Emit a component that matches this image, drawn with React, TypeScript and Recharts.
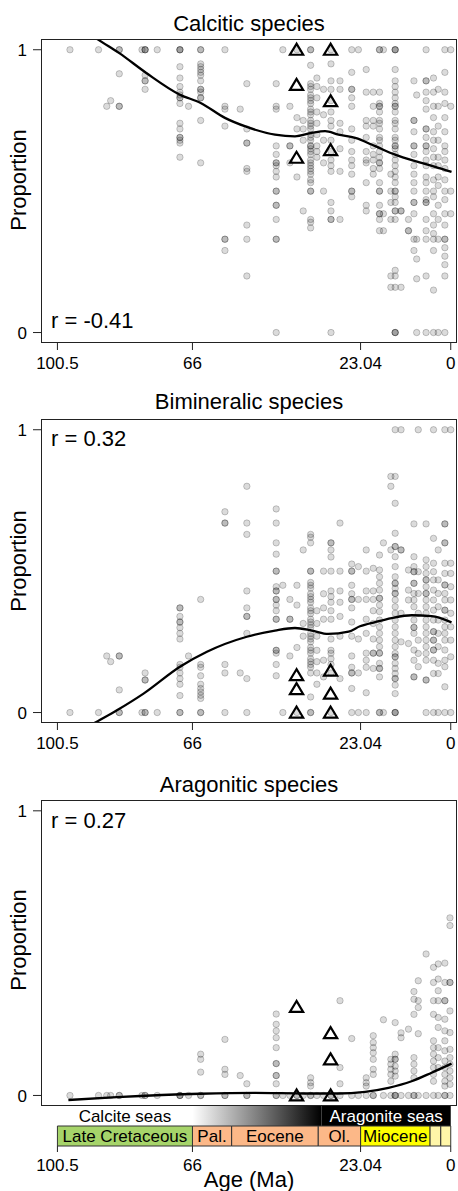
import React from 'react';
import { ComposedChart, BarChart, Bar, Scatter, Line, XAxis, YAxis } from 'recharts';

const FONT = '"Liberation Sans", Arial, Helvetica, sans-serif';

const AGE_DOMAIN: [number, number] = [-1.6, 104.7];
const P_DOMAIN: [number, number] = [-0.037, 1.038];
const AGE_TICKS = [100.5, 66, 23.04, 0];
const P_TICKS = [0, 1];

type Col = [number, number[]];

// columns of samples: [age (Ma), proportions]
const calcitic: Col[] = [
  [97.3, [1]],
  [90.0, [1]],
  [87.9, [0.8]],
  [86.9, [0.82]],
  [84.7, [1, 1, 0.915, 0.8, 0.8]],
  [78.9, [1]],
  [78.1, [1, 1, 1, 0.91, 0.89, 0.89, 0.86]],
  [75.0, [1]],
  [69.2, [1, 1, 1, 0.94, 0.9, 0.87, 0.85, 0.84, 0.83, 0.83, 0.81, 0.74, 0.72, 0.69, 0.69, 0.68, 0.67, 0.62]],
  [67.0, [0.8]],
  [63.9, [1, 1, 0.95, 0.94, 0.93, 0.92, 0.91, 0.89, 0.86, 0.86, 0.85, 0.83, 0.83, 0.75, 0.6]],
  [57.7, [1, 0.8, 0.79, 0.73, 0.33, 0.33, 0.29]],
  [53.8, [0.79]],
  [52.1, [0.88, 0.72, 0.67, 0.67, 0.58, 0.57, 0.38, 0.33, 0.2]],
  [44.6, [0.88, 0.8, 0.79, 0.66, 0.63, 0.6, 0.6, 0.59, 0.57, 0.55, 0.5, 0.5, 0.45, 0.45, 0.4, 0.33, 0.33, 0]],
  [42.9, [1]],
  [41.1, [0.8, 0.66, 0.66, 0.6]],
  [39.3, [1, 0.76, 0.72, 0.55]],
  [37.7, [0.75, 0.72, 0.68, 0.43]],
  [35.8, [1, 1, 0.945, 0.88, 0.87, 0.86, 0.84, 0.83, 0.82, 0.81, 0.79, 0.78, 0.77, 0.75, 0.74, 0.73, 0.72, 0.7, 0.69, 0.68, 0.66, 0.66, 0.65, 0.64, 0.63, 0.61, 0.6, 0.59, 0.58, 0.57, 0.56, 0.54, 0.53, 0.5, 0.5, 0.4, 0.39, 0.37]],
  [34.2, [0.9, 0.87, 0.83, 0.78, 0.74, 0.7, 0.66, 0.64, 0.62]],
  [32.5, [0.86, 0.77, 0.68, 0.6, 0.5]],
  [30.6, [1, 0.95, 0.89, 0.86, 0.82, 0.78, 0.75, 0.73, 0.68, 0.64, 0.61, 0.59, 0.57, 0.46, 0.43, 0.4, 0.4, 0]],
  [28.3, [0.89, 0.86, 0.74, 0.71, 0.65, 0.57, 0.4]],
  [25.3, [1, 0.92, 0.86, 0.86, 0.83, 0.8, 0.72, 0.68, 0.64, 0.61, 0.59, 0.56, 0.5, 0.5, 0.48]],
  [23.6, [1]],
  [21.6, [0.93, 0.85, 0.75, 0.73, 0.69, 0.64, 0.61, 0.6, 0.53, 0.45, 0.43]],
  [19.8, [0.85, 0.8, 0.75, 0.73, 0.66, 0.63, 0.61, 0.58, 0.56]],
  [18.2, [1, 1, 0.85, 0.81, 0.8, 0.8, 0.78, 0.75, 0.74, 0.72, 0.69, 0.68, 0.66, 0.64, 0.62, 0.6, 0.6, 0.58, 0.53, 0.5, 0.5, 0.45, 0.42, 0.42, 0.4, 0.36]],
  [17.2, [1, 0.42, 0.36]],
  [15.3, [0.56, 0.5, 0.46, 0.4, 0.2, 0.16]],
  [14.2, [1, 1, 1, 0.93, 0.89, 0.87, 0.85, 0.83, 0.81, 0.8, 0.8, 0.78, 0.75, 0.74, 0.72, 0.69, 0.68, 0.66, 0.66, 0.65, 0.63, 0.61, 0.59, 0.57, 0.55, 0.53, 0.5, 0.5, 0.48, 0.46, 0.43, 0.43, 0.4, 0.22, 0.2, 0.16, 0, 0, 0]],
  [12.7, [0.43, 0.43, 0.16]],
  [10.8, [0.4, 0.36, 0.36]],
  [9.4, [0.89, 0.75, 0.75, 0.71, 0.66, 0.66, 0.63, 0.59, 0.56, 0.53, 0.5, 0.46, 0.46, 0.42, 0.33, 0.29]],
  [8.7, [0.84, 0.33, 0.26, 0.19, 0]],
  [6.3, [1, 0.89, 0.89, 0.85, 0.82, 0.79, 0.72, 0.72, 0.69, 0.66, 0.66, 0.64, 0.61, 0.59, 0.55, 0.53, 0.5, 0.47, 0.46, 0.46, 0.4, 0.36, 0.33, 0.2, 0]],
  [4.4, [0.9, 0.85, 0.8, 0.76, 0.71, 0.68, 0.65, 0.62, 0.59, 0.54, 0.5, 0.48, 0.42, 0.38, 0.35, 0.33, 0.29, 0.15, 0]],
  [3.2, [0.86, 0.8, 0.73, 0.68, 0.62, 0.59, 0.55, 0.52, 0.45, 0.4, 0.33, 0]],
  [1.5, [1, 0.92, 0.85, 0.81, 0.76, 0.71, 0.66, 0.64, 0.61, 0.58, 0.54, 0.5, 0.47, 0.42, 0.38, 0.33, 0.33, 0.3, 0.27, 0.24, 0.2, 0]],
  [0, [1, 0.8, 0.5, 0.42]],
];

const bimineralic: Col[] = [
  [97.3, [0]],
  [90.0, [0]],
  [87.9, [0.2]],
  [86.9, [0.18]],
  [84.7, [0, 0, 0.2, 0.2, 0.08]],
  [78.9, [0]],
  [78.1, [0, 0, 0.14, 0.115, 0.115]],
  [75.0, [0]],
  [69.2, [0, 0, 0.37, 0.37, 0.34, 0.32, 0.32, 0.3, 0.28, 0.26, 0.17, 0.16, 0.14, 0.12, 0.1, 0.06]],
  [67.0, [0.2]],
  [63.9, [0, 0, 0.4, 0.17, 0.16, 0.13, 0.1, 0.085, 0.073, 0.061, 0.05]],
  [57.7, [0, 0.71, 0.67, 0.67, 0.17, 0.14]],
  [53.8, [0.14]],
  [52.1, [0, 0.8, 0.67, 0.63, 0.43, 0.37, 0.34, 0.34, 0.28, 0.12]],
  [44.6, [0.72, 0.67, 0.6, 0.56, 0.5, 0.5, 0.445, 0.43, 0.43, 0.4, 0.4, 0.38, 0.36, 0.33, 0.33, 0.22, 0.22, 0.21, 0.17, 0.13]],
  [42.9, [0.45, 0]],
  [41.1, [0.4, 0.33, 0.33, 0.2]],
  [39.3, [0.45, 0.38, 0.23, 0]],
  [37.7, [0.575, 0.315, 0.27]],
  [35.8, [0.63, 0.62, 0.6, 0.5, 0.5, 0.46, 0.45, 0.44, 0.42, 0.41, 0.4, 0.39, 0.37, 0.36, 0.35, 0.33, 0.32, 0.31, 0.3, 0.28, 0.27, 0.26, 0.25, 0.23, 0.22, 0.21, 0.19, 0.18, 0.17, 0.16, 0.14, 0.055, 0, 0]],
  [34.2, [0.36, 0.315, 0.27, 0.22, 0.18, 0.14, 0.1]],
  [32.5, [0.5, 0.42, 0.37, 0.33, 0.185, 0.126]],
  [30.6, [0.6, 0.6, 0.575, 0.55, 0.5, 0.43, 0.41, 0.39, 0.36, 0.33, 0.26, 0.22, 0.21, 0.19, 0.17, 0.14, 0]],
  [28.3, [0.67, 0.5, 0.43, 0.39, 0.34, 0.27, 0.12]],
  [25.3, [0.525, 0.5, 0.5, 0.45, 0.42, 0.4, 0.4, 0.37, 0.32, 0.27, 0.2, 0.16, 0.14, 0.14, 0.085, 0]],
  [23.6, [0.516, 0.4, 0.26, 0.14, 0]],
  [21.6, [0.575, 0.5, 0.43, 0.4, 0.33, 0.28, 0.21, 0.185, 0.16, 0.07, 0]],
  [19.8, [0.51, 0.43, 0.4, 0.36, 0.315, 0.26, 0.21, 0.21, 0.156]],
  [18.2, [0.557, 0.504, 0.48, 0.457, 0.433, 0.404, 0.404, 0.38, 0.357, 0.327, 0.303, 0.28, 0.256, 0.233, 0.21, 0.21, 0.174, 0.156, 0.156, 0.126, 0, 0]],
  [17.2, [0.6, 0]],
  [15.3, [0.835, 0.8, 0.575]],
  [14.2, [1, 0.835, 0.74, 0.634, 0.587, 0.587, 0.551, 0.516, 0.48, 0.457, 0.457, 0.439, 0.421, 0.421, 0.398, 0.374, 0.351, 0.327, 0.303, 0.28, 0.256, 0.233, 0.209, 0.197, 0.197, 0.174, 0.156, 0.138, 0.12, 0.12, 0.097, 0.067, 0, 0, 0]],
  [12.7, [1, 0.575, 0.575, 0.351, 0.25]],
  [10.8, [0.504, 0.433, 0.398, 0.244]],
  [9.4, [0.667, 0.551, 0.516, 0.498, 0.498, 0.457, 0.457, 0.421, 0.398, 0.374, 0.327, 0.301, 0.301, 0.28, 0.221, 0.185, 0.126, 0.126]],
  [8.3, [1, 0.498, 0.421, 0.351, 0.256, 0.209, 0.162]],
  [6.3, [0.667, 0.54, 0.516, 0.492, 0.469, 0.469, 0.445, 0.421, 0.421, 0.398, 0.374, 0.351, 0.327, 0.303, 0.28, 0.256, 0.233, 0.209, 0.185, 0.115, 0.115, 0]],
  [4.4, [1, 0.616, 0.528, 0.498, 0.469, 0.433, 0.398, 0.362, 0.327, 0.286, 0.286, 0.256, 0.256, 0.221, 0.221, 0.185, 0.138, 0]],
  [3.2, [0.575, 0.469, 0.421, 0.374, 0.327, 0.28, 0.233, 0.174, 0.138, 0]],
  [1.5, [1, 0.667, 0.667, 0.6, 0.6, 0.528, 0.492, 0.451, 0.451, 0.421, 0.398, 0.362, 0.362, 0.327, 0.303, 0.28, 0.256, 0.221, 0.185, 0.162, 0.091, 0]],
  [0, [1, 0.528, 0.492, 0.445, 0.398, 0.351, 0.303, 0.256, 0.197, 0]],
];

const aragonitic: Col[] = [
  [97.3, [0]],
  [90.0, [0]],
  [87.9, [0]],
  [86.9, [0]],
  [84.7, [0, 0]],
  [78.9, [0]],
  [78.1, [0, 0]],
  [75.0, [0]],
  [69.2, [0, 0, 0]],
  [67.0, [0]],
  [63.9, [0, 0, 0.145, 0.127, 0.082]],
  [57.7, [0, 0, 0.197, 0.092, 0.074]],
  [53.8, [0.07]],
  [52.1, [0, 0, 0.041]],
  [44.6, [0.286, 0.25, 0.227, 0.203, 0.168, 0.112, 0.112, 0.07, 0.07, 0.041, 0, 0]],
  [42.9, [0]],
  [41.1, [0]],
  [39.3, [0, 0]],
  [37.7, [0]],
  [35.8, [0.062, 0.045, 0.033, 0, 0]],
  [34.2, [0]],
  [32.5, [0]],
  [30.6, [0, 0]],
  [28.3, [0.333, 0.098, 0.041, 0]],
  [25.3, [0.2, 0]],
  [23.6, [0]],
  [21.6, [0.062, 0.045, 0.033, 0]],
  [19.8, [0.21, 0.186, 0.168, 0.15, 0.127, 0.092, 0.074, 0, 0]],
  [17.2, [0.266, 0]],
  [15.3, [0.127, 0.11, 0.092, 0.074, 0.05, 0]],
  [14.2, [0.256, 0.145, 0.127, 0.127, 0.103, 0.086, 0.068, 0, 0, 0]],
  [12.7, [0.22, 0.203, 0]],
  [10.8, [0.233, 0]],
  [9.4, [0.365, 0.338, 0.285, 0.133, 0.11, 0.086, 0.062, 0, 0]],
  [8.3, [0.403, 0.333, 0.309, 0.217, 0]],
  [6.3, [0.497, 0]],
  [4.4, [0.45, 0.397, 0.333, 0.285, 0.192, 0.168, 0.145, 0.121, 0.098, 0.074, 0.05, 0]],
  [3.2, [0.462, 0.409, 0.368, 0.333, 0.274, 0.239, 0.168, 0.133, 0.098, 0]],
  [1.5, [0.465, 0.397, 0.333, 0.333, 0.268, 0.227, 0.192, 0.157, 0.121, 0.098, 0.074, 0.05, 0.033, 0, 0]],
  [0.2, [0.624, 0.597, 0.397, 0.397, 0.297, 0.221, 0.162, 0.133, 0.11, 0.086, 0.062, 0.039, 0]],
];

// open triangles
const calciticTri: Col[] = [[39.4, [1, 0.876, 0.618]], [30.7, [1, 0.818, 0.645]]];
const bimineralicTri: Col[] = [[39.4, [0.132, 0.083, 0]], [30.7, [0.148, 0.067, 0]]];
const aragoniticTri: Col[] = [[39.4, [0.311, 0]], [30.7, [0.219, 0.127, 0]]];

// smoothed trend [age, proportion]
const calciticCurve: [number, number][] = [
  [97.5, 1.11], [90.0, 1.035], [84.7, 0.988], [77.8, 0.918], [69.2, 0.841], [63.9, 0.812],
  [57.7, 0.759], [52.1, 0.727], [44.9, 0.7], [39.8, 0.694], [35.5, 0.706], [32.1, 0.712],
  [28.7, 0.7], [24.4, 0.688], [19.3, 0.659], [14.2, 0.629], [9.1, 0.606], [4.0, 0.586], [-0.2, 0.568],
];
const bimineralicCurve: [number, number][] = [
  [97.5, -0.09], [91.3, -0.039], [85.3, 0.008], [78.5, 0.067], [69.2, 0.162], [62.3, 0.215],
  [52.1, 0.268], [44.9, 0.29], [39.8, 0.299], [35.5, 0.29], [31.3, 0.278], [26.1, 0.286],
  [23.2, 0.305], [19.3, 0.32], [15.1, 0.334], [10.0, 0.344], [4.9, 0.341], [-0.2, 0.319],
];
const aragoniticCurve: [number, number][] = [
  [97.7, -0.016], [85.3, -0.006], [64.0, 0.006], [50.0, 0.009], [37.2, 0.007], [28.7, 0.007],
  [21.9, 0.013], [15.9, 0.027], [10.0, 0.05], [4.9, 0.08], [-0.2, 0.112],
];

// geological timescale, youngest first
const epochNames = ['', '', 'Miocene', 'Ol.', 'Eocene', 'Pal.', 'Late Cretaceous'];
const epochBase = [2.58, 5.333, 23.04, 33.9, 56, 66, 100.5];
const epochColors = ['#fff6a8', '#fff6a8', '#ffff00', '#fcb888', '#fcb888', '#fcb888', '#a6d46a'];

// ocean chemistry band, youngest first
const seasNames = ['Aragonite seas', '', 'Calcite seas'];
const seasBase = [33, 66, 100.5];
const seasFills = ['#000000', 'url(#seasGrad)', 'none'];
const seasText = ['#ffffff', '#000000', '#000000'];

const toPoints = (cols: Col[]) => cols.flatMap(([age, vals]) => vals.map((p) => ({ age, p })));
const toCurve = (c: [number, number][]) => c.map(([age, p]) => ({ age, p }));

const durations = (bases: number[]) => bases.map((b, i) => b - (i === 0 ? 0 : bases[i - 1]));

const seasRow: Record<string, any> = { row: 'seas' };
durations(seasBase).forEach((d, i) => { seasRow[`s${i}`] = d; });
const epochRow: Record<string, any> = { row: 'epoch' };
durations(epochBase).forEach((d, i) => { epochRow[`e${i}`] = d; });
const timescaleRows = [seasRow, epochRow];

const Dot = (props: any) => (
  <circle cx={props.cx} cy={props.cy} r={3.2} fill="rgba(0,0,0,0.14)" stroke="rgba(0,0,0,0.2)" strokeWidth={1} />
);

const Tri = (props: any) => {
  const { cx, cy } = props;
  return (
    <polygon
      points={`${cx},${cy - 6} ${cx - 6.6},${cy + 5} ${cx + 6.6},${cy + 5}`}
      fill="none"
      stroke="#000"
      strokeWidth={2.2}
    />
  );
};

const tickStyle = { fontSize: 17, fill: '#000', fontFamily: FONT };

// label drawn only on the segment that actually has a width
const bandLabel = (text: string, color: string) => (props: any) => {
  const vb = props.viewBox || props;
  if (!text || vb == null || !vb.width || Math.abs(vb.width) < 1) return null;
  return (
    <text
      x={vb.x + vb.width / 2}
      y={vb.y + vb.height / 2}
      textAnchor="middle"
      dominantBaseline="central"
      fontSize={17}
      fontFamily={FONT}
      fill={color}
    >
      {text}
    </text>
  );
};

interface PanelProps {
  top: number;
  height: number;
  marginTop: number;
  marginBottom: number;
  title: string;
  titleTop: number;
  rText: string;
  rTop: number;
  propCenter: number;
  cols: Col[];
  tri: Col[];
  curve: [number, number][];
  showTicks: boolean;
}

function Panel(p: PanelProps) {
  const plotH = p.height - p.marginTop - p.marginBottom - (p.showTicks ? 30 : 0);
  return (
    <div style={{ position: 'absolute', left: 0, top: p.top, width: 458, height: p.height }}>
      <ComposedChart
        width={458}
        height={p.height}
        margin={{ top: p.marginTop, right: 1, bottom: p.marginBottom, left: 11 }}
      >
        <XAxis
          dataKey="age"
          type="number"
          domain={AGE_DOMAIN}
          reversed
          allowDataOverflow
          ticks={AGE_TICKS}
          interval={0}
          hide={!p.showTicks}
          height={30}
          axisLine={false}
          tickSize={7}
          tickMargin={7}
          tickLine={{ stroke: '#222' }}
          tick={tickStyle}
        />
        <YAxis
          type="number"
          domain={P_DOMAIN}
          allowDataOverflow
          ticks={P_TICKS}
          interval={0}
          width={30}
          axisLine={false}
          tickSize={8}
          tickMargin={6}
          tickLine={{ stroke: '#222' }}
          tick={tickStyle}
        />
        <Scatter data={toPoints(p.cols)} dataKey="p" shape={Dot} isAnimationActive={false} />
        <Line
          data={toCurve(p.curve)}
          dataKey="p"
          type="monotone"
          stroke="#000"
          strokeWidth={2.3}
          dot={false}
          activeDot={false}
          isAnimationActive={false}
        />
        <Scatter data={toPoints(p.tri)} dataKey="p" shape={Tri} isAnimationActive={false} />
      </ComposedChart>
      <div
        style={{
          position: 'absolute', left: 41, top: p.marginTop, width: 416, height: plotH,
          boxSizing: 'border-box', border: '1px solid #222', pointerEvents: 'none',
        }}
      />
      <div
        style={{
          position: 'absolute', left: 41, top: p.titleTop, width: 416, textAlign: 'center',
          fontFamily: FONT, fontSize: 22, lineHeight: '22px', color: '#000',
        }}
      >
        {p.title}
      </div>
      <div
        style={{
          position: 'absolute', left: 51, top: p.rTop, fontFamily: FONT, fontSize: 22,
          lineHeight: '22px', color: '#000', whiteSpace: 'nowrap',
        }}
      >
        {p.rText}
      </div>
      <div
        style={{
          position: 'absolute', left: -81, top: p.propCenter - 12, width: 200, height: 24,
          lineHeight: '24px', textAlign: 'center', fontFamily: FONT, fontSize: 22, color: '#000',
          transform: 'rotate(-90deg)',
        }}
      >
        Proportion
      </div>
    </div>
  );
}

function Timescale() {
  return (
    <div style={{ position: 'absolute', left: 0, top: 1106, width: 458, height: 85 }}>
      <BarChart
        width={458}
        height={85}
        data={timescaleRows}
        layout="vertical"
        barCategoryGap={0}
        barGap={0}
        margin={{ top: 0, right: 1, bottom: 0, left: 41 }}
      >
        <defs>
          <linearGradient id="seasGrad" x1="0" y1="0" x2="1" y2="0">
            <stop offset="0" stopColor="#ffffff" />
            <stop offset="1" stopColor="#000000" />
          </linearGradient>
        </defs>
        <XAxis
          type="number"
          domain={AGE_DOMAIN}
          reversed
          allowDataOverflow
          ticks={AGE_TICKS}
          interval={0}
          height={45}
          axisLine={false}
          tickSize={6}
          tickMargin={7}
          tickLine={{ stroke: '#222' }}
          tick={tickStyle}
        />
        <YAxis type="category" dataKey="row" hide />
        {seasNames.map((name, i) => (
          <Bar
            key={`s${i}`}
            dataKey={`s${i}`}
            stackId="t"
            fill={seasFills[i]}
            stroke="none"
            isAnimationActive={false}
            label={bandLabel(name, seasText[i])}
          />
        ))}
        {epochNames.map((name, i) => (
          <Bar
            key={`e${i}`}
            dataKey={`e${i}`}
            stackId="t"
            fill={epochColors[i]}
            stroke="#333"
            strokeWidth={1}
            isAnimationActive={false}
            label={bandLabel(name, '#000')}
          />
        ))}
      </BarChart>
      <div
        style={{
          position: 'absolute', left: 41, top: 61.5, width: 416, textAlign: 'center',
          fontFamily: FONT, fontSize: 22, lineHeight: '24px', color: '#000', whiteSpace: 'nowrap',
        }}
      >
        Age (Ma)
      </div>
    </div>
  );
}

export default function App() {
  return (
    <div style={{ position: 'absolute', left: 0, top: 0, width: 458, height: 1191, background: '#fff', overflow: 'hidden' }}>
      <Panel
        top={0}
        height={380}
        marginTop={39}
        marginBottom={7}
        title="Calcitic species"
        titleTop={12.5}
        rText="r = -0.41"
        rTop={310}
        propCenter={180}
        cols={calcitic}
        tri={calciticTri}
        curve={calciticCurve}
        showTicks
      />
      <Panel
        top={380}
        height={380}
        marginTop={39}
        marginBottom={7}
        title="Bimineralic species"
        titleTop={11}
        rText="r = 0.32"
        rTop={47.5}
        propCenter={181}
        cols={bimineralic}
        tri={bimineralicTri}
        curve={bimineralicCurve}
        showTicks
      />
      <Panel
        top={760}
        height={348}
        marginTop={40}
        marginBottom={2}
        title="Aragonitic species"
        titleTop={14}
        rText="r = 0.27"
        rTop={50}
        propCenter={180}
        cols={aragonitic}
        tri={aragoniticTri}
        curve={aragoniticCurve}
        showTicks={false}
      />
      <Timescale />
    </div>
  );
}
